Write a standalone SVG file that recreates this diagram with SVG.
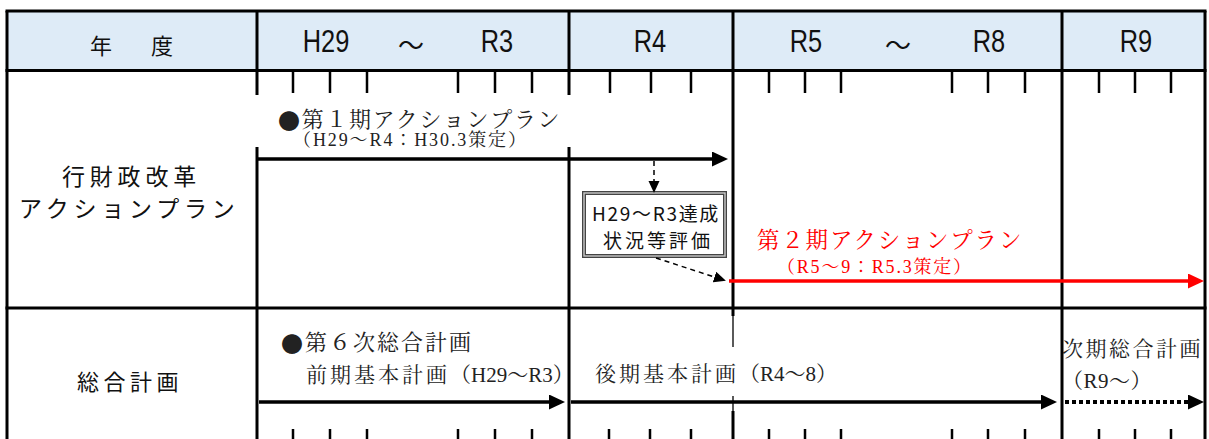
<svg xmlns="http://www.w3.org/2000/svg" width="1209" height="439" viewBox="0 0 1209 439">
<style>
.g{font-family:"Noto Sans CJK JP",sans-serif;fill:#111;dominant-baseline:central}
.m{font-family:"Liberation Serif","Noto Serif CJK JP","Noto Sans CJK JP",serif;fill:#222;dominant-baseline:central}
.dot{font-family:"Noto Sans CJK JP",sans-serif}
.h{font-family:"Liberation Sans",sans-serif;font-size:31px;fill:#111;text-anchor:middle}
.b{stroke:#000;stroke-width:3;fill:none}
.t{stroke:#000;stroke-width:2.5;fill:none}
.thin{stroke:#000;stroke-width:1.3;fill:none}
.arr{stroke:#000;stroke-width:3.5;fill:none}
.dash{stroke:#000;stroke-width:1.5;fill:none;stroke-dasharray:5 4}
</style>
<defs>
<marker id="ah" markerUnits="userSpaceOnUse" markerWidth="17" markerHeight="16" refX="0" refY="7.5" orient="auto"><path d="M0,0 L16,7.5 L0,15 z" fill="#000"/></marker>
<marker id="ahr" markerUnits="userSpaceOnUse" markerWidth="17" markerHeight="16" refX="0" refY="7.5" orient="auto"><path d="M0,0 L16,7.5 L0,15 z" fill="#f00"/></marker>
<marker id="ahs" markerUnits="userSpaceOnUse" markerWidth="13" markerHeight="12" refX="0" refY="5.5" orient="auto"><path d="M0,0 L12,5.5 L0,11 z" fill="#000"/></marker>
</defs>
<rect width="1209" height="439" fill="#fff"/>
<g id="grid">
<rect x="7" y="11" width="1198" height="59.5" fill="#deebf7"/>
<line class="b" x1="5.5" y1="11" x2="1206.5" y2="11"/>
<line class="b" x1="5.5" y1="70.5" x2="1206.5" y2="70.5"/>
<line class="b" x1="5.5" y1="308" x2="1206.5" y2="308"/>
<line class="b" x1="7" y1="11" x2="7" y2="439"/>
<line class="b" x1="1205" y1="11" x2="1205" y2="439"/>
<line class="b" x1="257" y1="11" x2="257" y2="439"/>
<line class="b" x1="569" y1="11" x2="569" y2="439"/>
<line class="b" x1="733" y1="11" x2="733" y2="316"/>
<line class="thin" x1="733" y1="316" x2="733" y2="347"/>
<line class="thin" x1="733" y1="396" x2="733" y2="411"/>
<line class="b" x1="733" y1="411" x2="733" y2="439"/>
<line class="b" x1="1062" y1="11" x2="1062" y2="439"/>
<g id="ticks-top" class="t">
<path d="M293,71V93M330,71V93M367,71V93M458,71V93M495,71V93M532,71V93M610,71V93M651,71V93M691,71V93M769,71V93M805,71V93M841,71V93M952,71V93M988,71V93M1025,71V93M1099,71V93M1135,71V93M1171,71V93"/>
</g>
<g id="ticks-bottom" class="t">
<path d="M293,429V439M330,429V439M367,429V439M458,429V439M495,429V439M532,429V439M609,429V439M650,429V439M691,429V439M769,429V439M805,429V439M841,429V439M952,429V439M988,429V439M1025,429V439M1099,429V439M1135,429V439M1171,429V439"/>
</g>
<rect x="254" y="95" width="318" height="52" fill="#fff"/>
</g>
<g id="header">
<text class="g" x="101" y="44" font-size="22" text-anchor="middle">年</text>
<text class="g" x="162" y="44" font-size="22" text-anchor="middle">度</text>
<text class="h" transform="translate(326,52) scale(0.82,1)">H29</text>
<text class="g" x="411" y="43" font-size="26" text-anchor="middle">～</text>
<text class="h" transform="translate(497,52) scale(0.82,1)">R3</text>
<text class="h" transform="translate(650,52) scale(0.82,1)">R4</text>
<text class="h" transform="translate(806,52) scale(0.82,1)">R5</text>
<text class="g" x="898" y="43" font-size="26" text-anchor="middle">～</text>
<text class="h" transform="translate(989,52) scale(0.82,1)">R8</text>
<text class="h" transform="translate(1136,52) scale(0.82,1)">R9</text>
</g>
<g id="row-action-label">
<text class="g" x="62" y="175" font-size="23" letter-spacing="4.8">行財政改革</text>
<text class="g" x="19" y="207" font-size="23" letter-spacing="4.8">アクションプラン</text>
</g>
<g id="row-plan-label">
<text class="g" x="77" y="380" font-size="22" letter-spacing="4.5">総合計画</text>
</g>
<g id="plan1">
<text class="m" x="278" y="119" font-size="22" letter-spacing="1.7"><tspan class="dot">●</tspan>第１期アクションプラン</text>
<text class="m" x="293" y="140" font-size="18" letter-spacing="1.9">（H29～R4：H30.3策定）</text>
</g>
<g id="evaluation">
<rect x="584" y="193" width="141" height="63" fill="#fff" stroke="#444" stroke-width="4"/>
<rect x="584" y="193" width="141" height="63" fill="none" stroke="#c8c8c8" stroke-width="1.4"/>
<text class="g" x="656" y="212" font-size="19" letter-spacing="1.7" text-anchor="middle">H29～R3達成</text>
<text class="g" x="658" y="239" font-size="19" letter-spacing="3" text-anchor="middle">状況等評価</text>
</g>
<g id="plan2">
<text class="m" x="757" y="240" font-size="22.5" letter-spacing="1.8" style="fill:#ff0000">第２期アクションプラン</text>
<text class="m" x="777" y="267" font-size="18" letter-spacing="1.8" style="fill:#ff0000">（R5～9：R5.3策定）</text>
</g>
<g id="plan6">
<text class="m" x="281" y="342" font-size="22" letter-spacing="2"><tspan class="dot">●</tspan>第６次総合計画</text>
<text class="m" x="306" y="375" font-size="21"><tspan letter-spacing="3">前期基本計画</tspan><tspan letter-spacing="0">（H29～R3）</tspan></text>
</g>
<g id="plan6-late">
<rect x="590" y="350" width="240" height="45" fill="#fff"/>
<text class="m" x="595" y="374" font-size="21"><tspan letter-spacing="3">後期基本計画</tspan><tspan letter-spacing="0">（R4～8）</tspan></text>
</g>
<g id="plan-next">
<text class="m" x="1062" y="349" font-size="21" letter-spacing="2.5">次期総合計画</text>
<text class="m" x="1062" y="381" font-size="21" letter-spacing="0.5">（R9～）</text>
</g>
<g id="connectors">
<line class="arr" x1="257" y1="159" x2="712" y2="159" marker-end="url(#ah)"/>
<line class="dash" x1="654" y1="161" x2="654" y2="181" marker-end="url(#ahs)"/>
<line class="dash" x1="656" y1="258" x2="714.5" y2="277" marker-end="url(#ahs)"/>
<line x1="729" y1="281" x2="1188" y2="281" stroke="#f00" stroke-width="3.5" marker-end="url(#ahr)"/>
<line class="arr" x1="259" y1="402" x2="549" y2="402" marker-end="url(#ah)"/>
<line class="arr" x1="571" y1="402" x2="1041" y2="402" marker-end="url(#ah)"/>
<line x1="1065" y1="402" x2="1188" y2="402" stroke="#000" stroke-width="4" stroke-dasharray="4 3" marker-end="url(#ah)"/>
</g>
</svg>
